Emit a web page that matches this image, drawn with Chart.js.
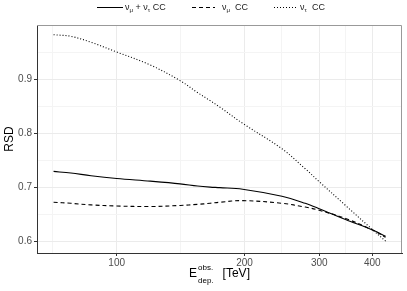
<!DOCTYPE html>
<html>
<head>
<meta charset="utf-8">
<script src="https://cdn.jsdelivr.net/npm/chart.js@4.4.1/dist/chart.umd.min.js"></script>
<style>
html,body{margin:0;padding:0;background:#fff;}
canvas{display:block;}
</style>
</head>
<body>
<canvas id="myChart" width="407" height="291"></canvas>
<script>
// valores (E en TeV)
var energia  = [71, 78, 87, 100, 120, 141, 155, 166, 175, 198, 245, 278, 300, 346, 402, 430];
var rsdMuTau = [0.729, 0.726, 0.721, 0.716, 0.711, 0.706, 0.702, 0.700, 0.699, 0.696, 0.683, 0.670, 0.660, 0.640, 0.620, 0.609];
var rsdMu    = [0.672, 0.670, 0.667, 0.665, 0.664, 0.666, 0.668, 0.670, 0.672, 0.675, 0.670, 0.663, 0.657, 0.642, 0.620, 0.607];
var rsdTau   = [0.982, 0.979, 0.968, 0.950, 0.926, 0.897, 0.875, 0.860, 0.848, 0.818, 0.771, 0.734, 0.710, 0.666, 0.620, 0.600];

var xTicks = [100, 200, 300, 400];
var xMinor = [70.7, 141.4, 244.9, 346.4];
var yTicks = [0.6, 0.7, 0.8, 0.9];
var yMinor = [0.65, 0.75, 0.85, 0.95];

var FONT = '"Liberation Sans", Arial, Helvetica, sans-serif';

function puntos(vals) {
    return energia.map(function (e, i) { return {x: e, y: vals[i]}; });
}
function esMayor(lista, v) {
    for (var i = 0; i < lista.length; i++) {
        if (Math.abs(lista[i] - v) < 1e-6) return true;
    }
    return false;
}

// dibuja texto con partes normales, sub y super indices
function textoPartes(ctx, x, y, partes, size) {
    var cx = x;
    partes.forEach(function (p) {
        var s = p[1] === 'n' ? size : size * 0.68;
        var dy = p[1] === 'sub' ? size * 0.3 : (p[1] === 'sup' ? -size * 0.4 : 0);
        ctx.font = s + 'px ' + FONT;
        ctx.fillText(p[0], cx, y + dy);
        cx += ctx.measureText(p[0]).width;
    });
    return cx - x;
}

var extras = {
    id: 'extras',
    afterDraw: function (chart) {
        var ctx = chart.ctx;
        var a = chart.chartArea;
        ctx.save();
        // borde superior y derecho
        ctx.strokeStyle = '#999999';
        ctx.lineWidth = 1;
        ctx.beginPath();
        ctx.moveTo(a.left, a.top + 0.5);
        ctx.lineTo(a.right - 0.5, a.top + 0.5);
        ctx.lineTo(a.right - 0.5, a.bottom);
        ctx.stroke();

        // leyenda
        var ly = 7.5;
        var items = [
            {x0: 97, x1: 123, tx: 125, dash: [],
             partes: [['ν', 'n'], ['μ', 'sub'], [' + ν', 'n'], ['τ', 'sub'], [' CC', 'n']]},
            {x0: 192, x1: 215, tx: 222, dash: [4, 3],
             partes: [['ν', 'n'], ['μ', 'sub'], ['  CC', 'n']]},
            {x0: 274, x1: 296, tx: 300, dash: [1, 2],
             partes: [['ν', 'n'], ['τ', 'sub'], ['  CC', 'n']]}
        ];
        items.forEach(function (it) {
            ctx.strokeStyle = '#000';
            ctx.lineWidth = 1;
            ctx.setLineDash(it.dash);
            ctx.beginPath();
            ctx.moveTo(it.x0, ly);
            ctx.lineTo(it.x1, ly);
            ctx.stroke();
            ctx.setLineDash([]);
            ctx.fillStyle = '#1a1a1a';
            ctx.textBaseline = 'middle';
            ctx.textAlign = 'left';
            textoPartes(ctx, it.tx, ly, it.partes, 9);
        });

        // titulo eje y
        ctx.fillStyle = '#000';
        ctx.font = '12px ' + FONT;
        ctx.translate(10, (a.top + a.bottom) / 2);
        ctx.rotate(-Math.PI / 2);
        ctx.textAlign = 'center';
        ctx.textBaseline = 'middle';
        ctx.fillText('RSD', 0, 0);
        ctx.setTransform(1, 0, 0, 1, 0, 0);

        // titulo eje x
        ctx.textAlign = 'left';
        ctx.textBaseline = 'middle';
        ctx.font = '12px ' + FONT;
        var wE = ctx.measureText('E').width;
        var wT = ctx.measureText('[TeV]').width;
        ctx.font = '8px ' + FONT;
        var wIdx = Math.max(ctx.measureText('obs.').width, ctx.measureText('dep.').width);
        var total = wE + 1 + wIdx + 9 + wT;
        var x0 = (a.left + a.right) / 2 - total / 2;
        var ty = 274;
        ctx.font = '12px ' + FONT;
        ctx.fillText('E', x0, ty);
        ctx.font = '8px ' + FONT;
        ctx.fillText('obs.', x0 + wE + 1, ty - 6);
        ctx.fillText('dep.', x0 + wE + 1, ty + 7);
        ctx.font = '12px ' + FONT;
        ctx.fillText('[TeV]', x0 + wE + 1 + wIdx + 9, ty);
        ctx.restore();
    }
};

new Chart('myChart', {
    type: 'line',
    data: {
        datasets: [
            {label: 'numu+nutau CC', data: puntos(rsdMuTau), borderColor: '#000', borderWidth: 1.1, borderDash: []},
            {label: 'numu CC', data: puntos(rsdMu), borderColor: '#000', borderWidth: 1.1, borderDash: [4, 3]},
            {label: 'nutau CC', data: puntos(rsdTau), borderColor: '#000', borderWidth: 1.1, borderDash: [1, 2]}
        ]
    },
    options: {
        responsive: false,
        animation: false,
        devicePixelRatio: 1,
        elements: {
            point: {radius: 0},
            line: {tension: 0.35}
        },
        layout: {padding: {top: 25, right: 5, left: 0, bottom: 0}},
        plugins: {
            legend: {display: false},
            tooltip: {enabled: false}
        },
        scales: {
            x: {
                type: 'logarithmic',
                min: 64.9,
                max: 470,
                afterBuildTicks: function (s) {
                    s.ticks = xMinor.concat(xTicks).sort(function (p, q) { return p - q; })
                        .map(function (v) { return {value: v}; });
                },
                afterFit: function (s) { s.height = 38; },
                ticks: {
                    autoSkip: false,
                    maxRotation: 0,
                    padding: 1,
                    color: '#4D4D4D',
                    font: {family: FONT, size: 10},
                    callback: function (v) { return esMayor(xTicks, v) ? String(v) : ''; }
                },
                grid: {
                    drawOnChartArea: true,
                    tickLength: 3,
                    color: function (c) { return c.tick && esMayor(xTicks, c.tick.value) ? '#EBEBEB' : '#F4F4F4'; },
                    tickColor: function (c) { return c.tick && esMayor(xTicks, c.tick.value) ? '#333333' : 'rgba(0,0,0,0)'; }
                },
                border: {display: true, color: '#333333', width: 1}
            },
            y: {
                type: 'linear',
                min: 0.578,
                max: 1.0,
                afterBuildTicks: function (s) {
                    s.ticks = yMinor.concat(yTicks).sort(function (p, q) { return p - q; })
                        .map(function (v) { return {value: v}; });
                },
                afterFit: function (s) { s.width = 37; },
                ticks: {
                    padding: 2,
                    color: '#4D4D4D',
                    font: {family: FONT, size: 10},
                    callback: function (v) { return esMayor(yTicks, v) ? v.toFixed(1) : ''; }
                },
                grid: {
                    tickLength: 3,
                    color: function (c) { return c.tick && esMayor(yTicks, c.tick.value) ? '#EBEBEB' : '#F4F4F4'; },
                    tickColor: function (c) { return c.tick && esMayor(yTicks, c.tick.value) ? '#333333' : 'rgba(0,0,0,0)'; }
                },
                border: {display: true, color: '#333333', width: 1}
            }
        }
    },
    plugins: [extras]
});
</script>
</body>
</html>
